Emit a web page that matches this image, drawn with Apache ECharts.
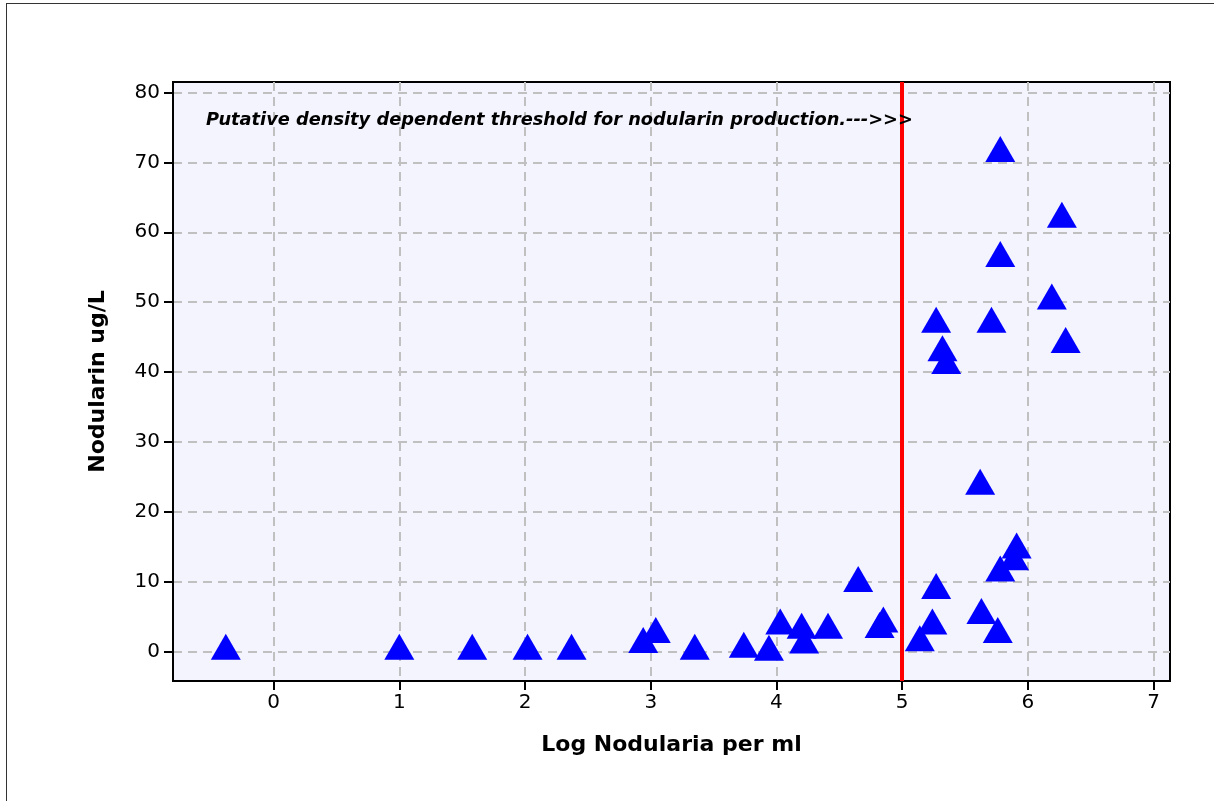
<!DOCTYPE html>
<html>
<head>
<meta charset="utf-8">
<script src="https://cdn.jsdelivr.net/npm/echarts@6/dist/echarts.min.js"></script>
<style>
  html, body { margin: 0; padding: 0; background: #fff; }
  #wrap { position: relative; width: 1214px; height: 801px; overflow: hidden; }
  #frame { position: absolute; left: 6px; top: 3px; width: 1300px; height: 900px; border: 1px solid #333; box-sizing: border-box; }
  #chart { position: absolute; left: 0; top: 0; width: 1214px; height: 801px; }
</style>
</head>
<body>
<div id="wrap">
  <div id="frame"></div>
  <div id="chart"></div>
</div>
<script>
// Data
const logNodularia = [
  -0.38, 1.0, 1.58, 2.02, 2.37,
  2.94, 3.04, 3.35, 3.74, 3.94, 4.03, 4.20, 4.22, 4.41, 4.65, 4.82, 4.85,
  5.14, 5.24, 5.27, 5.62, 5.63, 5.76, 5.78, 5.91, 5.89,
  5.78, 6.27, 5.78, 6.19, 5.27, 5.71, 6.30, 5.32, 5.35
];
const nodularin = [
  0.7, 0.7, 0.7, 0.7, 0.7,
  1.65, 3.1, 0.7, 1.0, 0.57, 4.3, 3.7, 1.6, 3.7, 10.4, 3.8, 4.6,
  1.9, 4.3, 9.4, 24.3, 5.8, 3.1, 11.9, 15.2, 13.5,
  71.9, 62.5, 56.9, 50.8, 47.5, 47.5, 44.6, 43.4, 41.6
];
const xTicks = [0, 1, 2, 3, 4, 5, 6, 7];
const yTicks = [0, 10, 20, 30, 40, 50, 60, 70, 80];
const thresholdX = [5];
const annotation = 'Putative density dependent threshold for nodularin production.--->>>';
const xName = 'Log Nodularia per ml';
const yName = 'Nodularin ug/L';

const points = logNodularia.map((x, i) => [x, nodularin[i]]);
const font = 'DejaVu Sans';

const chart = echarts.init(document.getElementById('chart'), null, { renderer: 'canvas' });
chart.setOption({
  animation: false,
  backgroundColor: 'transparent',
  grid: {
    left: 173, right: 44, top: 82, bottom: 120,
    show: true, backgroundColor: '#F4F4FE', borderColor: '#000', borderWidth: 2,
    containLabel: false
  },
  xAxis: {
    type: 'value', min: -0.8, max: 7.13,
    name: xName, nameLocation: 'middle', nameGap: 53,
    nameTextStyle: { fontFamily: font, fontWeight: 'bold', fontSize: 22, color: '#000' },
    axisLine: { show: true, onZero: false, lineStyle: { color: '#000', width: 2 } },
    axisTick: { show: true, inside: false, length: 9, customValues: xTicks, lineStyle: { color: '#000', width: 2 } },
    axisLabel: { customValues: xTicks, fontFamily: font, fontSize: 20, color: '#000', margin: 12 },
    splitLine: { show: true, lineStyle: { color: '#C0C0C0', width: 2, type: [9, 6] } }
  },
  yAxis: {
    type: 'value', min: -4.2, max: 81.5,
    name: yName, nameLocation: 'middle', nameGap: 64, nameRotate: 90,
    nameTextStyle: { fontFamily: font, fontWeight: 'bold', fontSize: 22, color: '#000' },
    axisLine: { show: true, onZero: false, lineStyle: { color: '#000', width: 2 } },
    axisTick: { show: true, inside: false, length: 9, customValues: yTicks, lineStyle: { color: '#000', width: 2 } },
    axisLabel: { customValues: yTicks, fontFamily: font, fontSize: 20, color: '#000', margin: 13 },
    splitLine: { show: true, lineStyle: { color: '#C0C0C0', width: 2, type: [9, 6] } }
  },
  graphic: [{
    type: 'text', left: 206, top: 111, z: 10,
    style: { text: annotation, fill: '#000', font: 'italic bold 17.8px "DejaVu Sans"' }
  }],
  series: [{
    type: 'scatter',
    data: points,
    symbol: 'triangle',
    symbolSize: [30, 26],
    itemStyle: { color: '#0000FF', opacity: 1 },
    z: 3,
    markLine: {
      silent: true, symbol: ['none', 'none'],
      label: { show: false },
      lineStyle: { color: '#FF0000', width: 4, type: 'solid' },
      data: thresholdX.map(v => ({ xAxis: v })),
      z: 4
    }
  }]
});
</script>
</body>
</html>
